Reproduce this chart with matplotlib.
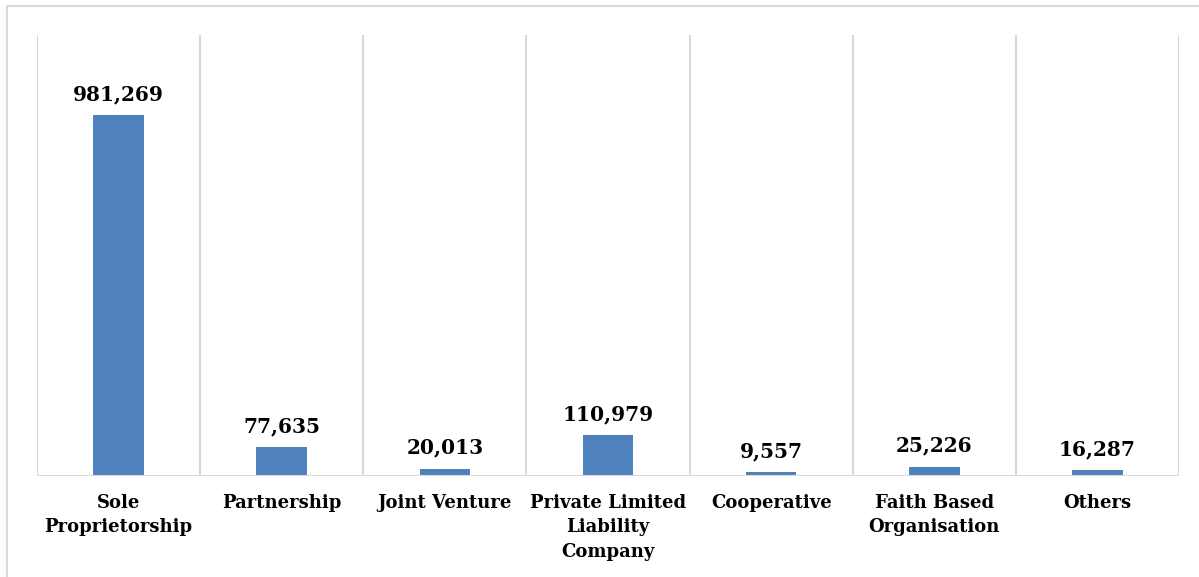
import matplotlib.pyplot as plt
from matplotlib.lines import Line2D

categories = ['Sole\nProprietorship', 'Partnership', 'Joint Venture',
              'Private Limited\nLiability\nCompany', 'Cooperative',
              'Faith Based\nOrganisation', 'Others']
counts = [981269, 77635, 20013, 110979, 9557, 25226, 16287]

bar_color = '#4F81BD'
grid_color = '#D9D9D9'

plt.rcParams['font.family'] = ['DejaVu Serif']

fig = plt.figure(figsize=(11.99, 5.77), dpi=100)
ax = fig.add_axes([37 / 1199, 101 / 577, 1142 / 1199, 441 / 577])

x = range(len(categories))
bars = ax.bar(x, counts, width=0.31, color=bar_color, zorder=3)

# value labels above each bar
for xi, v in zip(x, counts):
    ax.annotate(f'{v:,}', (xi, v), xytext=(0, 8), textcoords='offset points',
                ha='center', va='bottom', fontsize=14.5, fontweight='bold')

ax.set_xlim(-0.5, len(categories) - 0.5)
ax.set_ylim(0, 1200000)

# vertical separators between categories
for b in [i - 0.5 for i in range(len(categories) + 1)]:
    ax.axvline(b, color=grid_color, lw=1.5, zorder=1)
ax.axhline(0, color=grid_color, lw=1.5, zorder=4)

ax.set_xticks(list(x))
ax.set_xticklabels(categories, fontsize=13, fontweight='bold', linespacing=1.45)
ax.tick_params(axis='x', length=0, pad=13)
ax.set_yticks([])
for s in ax.spines.values():
    s.set_visible(False)

# light frame around the chart area
fig.add_artist(Line2D([7 / 1199, 1], [1 - 6 / 577, 1 - 6 / 577],
                      transform=fig.transFigure, color=grid_color, lw=1.5))
fig.add_artist(Line2D([7 / 1199, 7 / 1199], [0, 1 - 6 / 577],
                      transform=fig.transFigure, color=grid_color, lw=1.5))

fig.savefig('out.png', dpi=100)
